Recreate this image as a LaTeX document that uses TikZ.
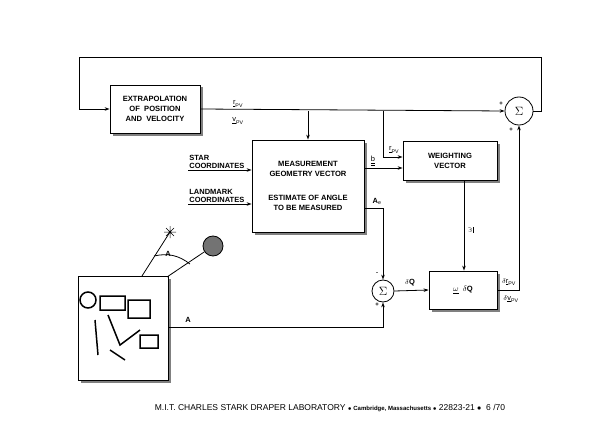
\documentclass[tikz,border=0pt]{standalone}
\usepackage{fontspec}
\setmainfont{Liberation Sans}
\usetikzlibrary{arrows.meta,positioning,shadows}
\begin{document}
\begin{tikzpicture}[x=1pt,y=-1pt,line width=0.8pt,>={Stealth[length=5pt,width=3.5pt]},
  blk/.style={draw,fill=white,align=center,font=\fontsize{7.6}{10}\selectfont\bfseries,
    drop shadow={opacity=1,shadow xshift=2.5pt,shadow yshift=-2.5pt}},
  sum/.style={draw,circle,minimum size=22pt,inner sep=0pt,font=\large},
  lbl/.style={font=\fontsize{7.5}{8}\selectfont\bfseries,inner sep=1pt},
  sgn/.style={font=\fontsize{6}{6}\selectfont\bfseries,inner sep=0pt}]
  \useasboundingbox (0,0) rectangle (600,436);
  % blocks
  \node[blk,minimum width=90pt,minimum height=48pt] (extr) at (155,109) {EXTRAPOLATION\\OF\ \ POSITION\\AND\ \ VELOCITY};
  \node[blk,minimum width=112pt,minimum height=92pt] (geom) at (308,186) {MEASUREMENT\\GEOMETRY VECTOR\\[14pt]ESTIMATE OF ANGLE\\TO BE MEASURED};
  \node[blk,minimum width=94pt,minimum height=39pt] (wvec) at (450,161) {WEIGHTING\\VECTOR};
  \node[blk,minimum width=68pt,minimum height=38pt] (gain) at (463,290) {$\underline{\omega}$\ \ $\delta$Q};
  \node[sum,minimum size=28pt] (sumA) at (519,111) {$\Sigma$};
  \node[sum] (sumB) at (383,291) {$\Sigma$};
  % sextant picture
  \node[blk,minimum width=90pt,minimum height=104pt] (sext) at (123,328) {};
  \draw[line width=1.5pt] (88,300) circle (8) (100,296) rectangle (125,310) (108,315) -- (120,345) -- (140,330)
    (128,300) rectangle (150,318) (140,335) rectangle (158,348) (95,320) -- (98,355) (110,350) -- (125,360);
  \coordinate (star) at (170,232);
  \node[circle,draw,fill=black!55,minimum size=20pt,inner sep=0pt] (moon) at (213,246) {};
  \draw[line width=0.5pt] (164,232) -- (176,232) (170,226) -- (170,238) (166,228) -- (174,236) (166,236) -- (174,228);
  \draw (142,276) -- (star);
  \draw (167,277) -- (moon);
  \draw (154,256) to[bend left=25] (190,264);
  \node[lbl] (angA) at (168,254) {A};
  % feedback loop
  \coordinate (tr) at (541,57);
  \coordinate (tl) at (79,57);
  \draw[->] (sumA.east) -| (tr) -- (tl) |- (extr.west);
  \draw[->] (extr.east) -- (sumA.west);
  \node[lbl] (rpv) at (238,104) {$\underline{\mathrm{r}}_{\mathrm{PV}}$};
  \node[lbl] (vpv) at (238,121) {$\underline{\mathrm{v}}_{\mathrm{PV}}$};
  \node[sgn] (s1) at (501,104) {+};
  \node[sgn] (s2) at (511,130) {+};
  \coordinate (j1) at (308,111);
  \draw[->] (j1) -- (geom.north);
  \coordinate (j2) at (383,111);
  \draw[->] (j2) |- (wvec.west |- 0,157);
  \node[lbl] (rpv2) at (394,150) {$\underline{\mathrm{r}}_{\mathrm{PV}}$};
  % inputs
  \coordinate (star in) at (188,170);
  \coordinate (lm in) at (188,204);
  \draw[->] (star in) -- (star in -| geom.west);
  \draw[->] (lm in) -- (lm in -| geom.west);
  \node[lbl,align=left,anchor=south west] (starlbl) at (188,170) {STAR\\COORDINATES};
  \node[lbl,align=left,anchor=south west] (lmlbl) at (188,204) {LANDMARK\\COORDINATES};
  % geometry outputs
  \draw[->] (geom.east |- 0,168) -- (wvec.west |- 0,168);
  \node[lbl] (blbl) at (373,161) {$\underline{\underline{\mathrm{b}}}$};
  \draw[->] (geom.east |- 0,208) -| (sumB.north);
  \node[lbl] (aelbl) at (377,201) {A$_{\mathrm{e}}$};
  \node[sgn] (s3) at (377,274) {-};
  \node[sgn] (s4) at (377,305) {+};
  % weighting
  \draw[->] (wvec.south -| 464,0) -- (gain.north -| 464,0);
  \node[lbl,rotate=90] (wlbl) at (471,230) {$\underline{\omega}$};
  \draw[->] (sumB.east) -- (gain.west);
  \node[lbl] (dq) at (410,283) {$\delta$Q};
  \draw[->] (gain.east) -| (sumA.south);
  \node[lbl] (drpv) at (509,282) {$\delta\underline{\mathrm{r}}_{\mathrm{PV}}$};
  \node[lbl] (dvpv) at (511,299) {$\delta\underline{\mathrm{v}}_{\mathrm{PV}}$};
  % measured angle
  \draw[->] (sext.east |- 0,327) -| (sumB.south);
  \node[lbl] (albl) at (188,320) {A};
  % footer
  \node[font=\fontsize{8.5}{9}\selectfont] (foot) at (330,408) {M.I.T. CHARLES STARK DRAPER LABORATORY {\fontsize{6}{7}\selectfont\bfseries $\bullet$ Cambridge, Massachusetts $\bullet$} 22823-21 $\bullet$ \ 6 /70};
\end{tikzpicture}
\end{document}
